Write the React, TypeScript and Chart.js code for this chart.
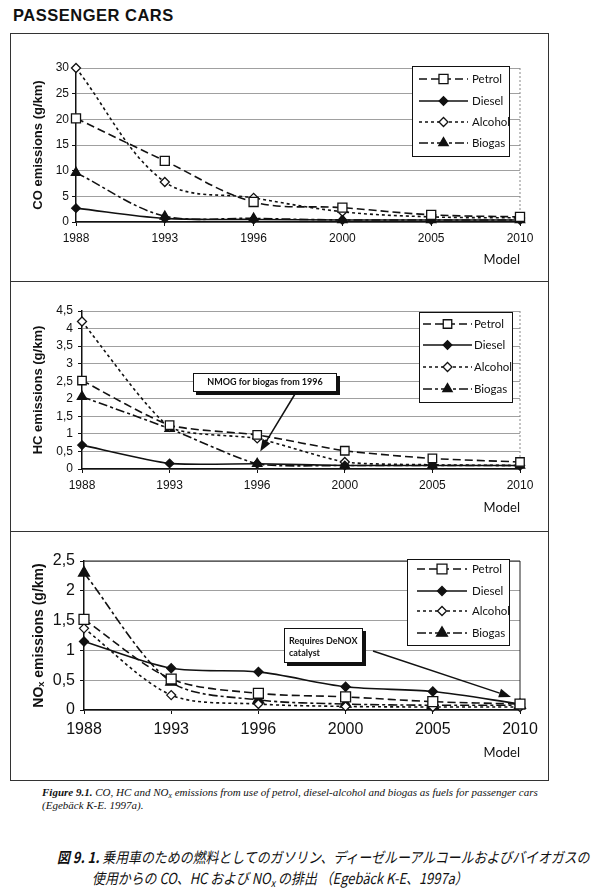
import React, { useEffect, useRef } from "react";
import { Chart, registerables } from "chart.js";
import { drawPoint } from "chart.js/helpers";
Chart.register(...registerables);

// ---------- data ----------
const years = ["1988", "1993", "1996", "2000", "2005", "2010"];
const fuels = ["Petrol", "Diesel", "Alcohol", "Biogas"];

const coPetrol = [20.2, 11.9, 3.9, 2.8, 1.4, 1.0];
const coDiesel = [2.7, 0.7, 0.5, 0.4, 0.4, 0.4];
const coAlcohol = [30, 7.8, 4.7, 2.0, 1.0, 0.8];
const coBiogas = [9.6, 1.1, 0.7, 0.4, 0.4, 0.4];

const hcPetrol = [2.52, 1.25, 0.97, 0.52, 0.3, 0.2];
const hcDiesel = [0.68, 0.16, 0.15, 0.1, 0.1, 0.1];
const hcAlcohol = [4.2, 1.2, 0.87, 0.2, 0.12, 0.1];
const hcBiogas = [2.06, 1.15, 0.15, 0.1, 0.1, 0.1];

const noxPetrol = [1.52, 0.52, 0.28, 0.22, 0.14, 0.1];
const noxDiesel = [1.15, 0.7, 0.64, 0.39, 0.31, 0.1];
const noxAlcohol = [1.37, 0.25, 0.1, 0.06, 0.05, 0.05];
const noxBiogas = [2.3, 0.47, 0.17, 0.1, 0.08, 0.08];

const coAxis = { max: 30, step: 5 };
const hcAxis = { max: 4.5, step: 0.5 };
const noxAxis = { max: 2.5, step: 0.5 };

const hcNote = ["NMOG for biogas from 1996"];
const noxNote = ["Requires DeNOX", "catalyst"];

// ---------- styles ----------
const INK = "#111";
const NARROW = "'Liberation Sans Narrow', 'Liberation Sans', Arial, sans-serif";
const HUMAN = "Lato, 'Open Sans', sans-serif";
const CANVAS_LEFT = 11;
const CANVAS_W = 536;

const seriesStyle = [
  { dash: [8, 4], point: "rect", fill: "#fff" },
  { dash: [], point: "rectRot", fill: INK },
  { dash: [3, 3], point: "rectRot", fill: "#fff" },
  { dash: [9, 3, 3, 3], point: "triangle", fill: INK },
];

type Panel = {
  top: number;
  height: number;
  area: { l: number; t: number; r: number; b: number };
  titleX: number;
  titleSize: number;
  yTitle: string;
  modelY: number;
  modelSize: number;
  axis: { max: number; step: number };
  tickSize: number;
  xTickPad: number;
  yTickPad: number;
  series: number[][];
  tension: number;
  radii: number[];
  frameColor: string;
  frameDash: number[];
  frameTop: boolean;
  legend: { x: number; y: number; w: number; h: number; rows: number[]; x1: number; x2: number; tx: number; size: number };
  note?: {
    lines: string[];
    box: { x: number; y: number; w: number; h: number };
    center: boolean;
    textX: number;
    lineYs: number[];
    size: number;
    from: [number, number];
    tipIndex: number;
    tipValue: number;
    tipDx: number;
  };
};

const panels: Panel[] = [
  {
    top: 34,
    height: 246,
    area: { l: 76, t: 68, r: 520, b: 222 },
    titleX: 38.5,
    titleSize: 13,
    yTitle: "CO emissions (g/km)",
    modelY: 260,
    modelSize: 13,
    axis: coAxis,
    tickSize: 12,
    xTickPad: 5,
    yTickPad: 3,
    series: [coPetrol, coDiesel, coAlcohol, coBiogas],
    tension: 0.35,
    radii: [6.4, 4.3, 4.5, 5.4],
    frameColor: "#888",
    frameDash: [2, 2],
    frameTop: false,
    legend: { x: 412, y: 66, w: 97, h: 90, rows: [79, 101, 122, 143], x1: 419, x2: 468, tx: 472, size: 11.5 },
  },
  {
    top: 283,
    height: 247,
    area: { l: 82, t: 311, r: 520, b: 469 },
    titleX: 38,
    titleSize: 13,
    yTitle: "HC emissions (g/km)",
    modelY: 508,
    modelSize: 13,
    axis: hcAxis,
    tickSize: 12,
    xTickPad: 5,
    yTickPad: 5,
    series: [hcPetrol, hcDiesel, hcAlcohol, hcBiogas],
    tension: 0.2,
    radii: [6, 4.3, 4.5, 5.4],
    frameColor: "#888",
    frameDash: [2, 2],
    frameTop: false,
    legend: { x: 419, y: 312, w: 93, h: 90, rows: [324, 345, 367, 389], x1: 423, x2: 472, tx: 474, size: 11.5 },
    note: {
      lines: hcNote,
      box: { x: 193, y: 373, w: 144, h: 19 },
      center: true,
      textX: 265,
      lineYs: [382.5],
      size: 9,
      from: [295, 394],
      tipIndex: 2,
      tipValue: 0.5,
      tipDx: 3,
    },
  },
  {
    top: 533,
    height: 246,
    area: { l: 84, t: 561, r: 520, b: 710 },
    titleX: 39,
    titleSize: 14,
    yTitle: "NOₓ emissions (g/km)",
    modelY: 753,
    modelSize: 13,
    axis: noxAxis,
    tickSize: 16,
    xTickPad: 6,
    yTickPad: 5,
    series: [noxPetrol, noxDiesel, noxAlcohol, noxBiogas],
    tension: 0.3,
    radii: [7, 4.5, 4.5, 6.3],
    frameColor: "#222",
    frameDash: [],
    frameTop: true,
    legend: { x: 407, y: 559, w: 102, h: 86, rows: [569, 591, 611, 633], x1: 417, x2: 467, tx: 472, size: 11.5 },
    note: {
      lines: noxNote,
      box: { x: 284, y: 628, w: 79, h: 35 },
      center: false,
      textX: 289,
      lineYs: [641, 653],
      size: 9,
      from: [373, 651],
      tipIndex: 5,
      tipValue: 0.22,
      tipDx: -9,
    },
  },
];

function EmissionChart({ p }: { p: Panel }) {
  const ref = useRef<HTMLCanvasElement>(null);
  useEffect(() => {
    if (!ref.current) return;
    const ox = CANVAS_LEFT;
    const oy = p.top;
    const titleLH = p.titleSize * 1.2;
    const padLeft = p.titleX - ox - (titleLH / 2 + 4);
    const yWidth = p.area.l - ox - padLeft;
    const padTop = p.area.t - oy;
    const padRight = ox + CANVAS_W - p.area.r;
    const modelLH = p.modelSize * 1.2;
    const xBottom = p.modelY + modelLH / 2 + 4;
    const padBottom = Math.max(0, oy + p.height - xBottom);
    const xHeight = xBottom - p.area.b;

    const decor = {
      id: "decor",
      beforeDatasetsDraw(chart: any) {
        const ctx = chart.ctx;
        const ca = chart.chartArea;
        ctx.save();
        ctx.strokeStyle = p.frameColor;
        ctx.lineWidth = 1;
        ctx.setLineDash(p.frameDash);
        ctx.beginPath();
        ctx.moveTo(ca.right, ca.bottom);
        ctx.lineTo(ca.right, ca.top);
        if (p.frameTop) ctx.lineTo(ca.left, ca.top);
        ctx.stroke();
        ctx.restore();
      },
      afterDraw(chart: any) {
        const ctx = chart.ctx;
        ctx.save();
        // legend
        const L = p.legend;
        ctx.setLineDash([]);
        ctx.fillStyle = "#fff";
        ctx.fillRect(L.x - ox, L.y - oy, L.w, L.h);
        ctx.strokeStyle = INK;
        ctx.lineWidth = 1;
        ctx.strokeRect(L.x - ox + 0.5, L.y - oy + 0.5, L.w, L.h);
        chart.data.datasets.forEach((ds: any, i: number) => {
          const y = L.rows[i] - oy;
          ctx.strokeStyle = INK;
          ctx.lineWidth = 1.5;
          ctx.setLineDash(ds.borderDash || []);
          ctx.beginPath();
          ctx.moveTo(L.x1 - ox, y);
          ctx.lineTo(L.x2 - ox, y);
          ctx.stroke();
          ctx.setLineDash([]);
          ctx.fillStyle = ds.pointBackgroundColor;
          ctx.strokeStyle = INK;
          ctx.lineWidth = 1.3;
          drawPoint(ctx, { pointStyle: ds.pointStyle, radius: ds.pointRadius, borderWidth: 1.3, rotation: 0 } as any, (L.x1 + L.x2) / 2 - ox, y);
          ctx.fillStyle = INK;
          ctx.font = `${L.size}px ${HUMAN}`;
          ctx.textBaseline = "middle";
          ctx.textAlign = "left";
          ctx.fillText(ds.label, L.tx - ox, y + 0.5);
        });
        // annotation
        const A = p.note;
        if (A) {
          const bx = A.box.x - ox;
          const by = A.box.y - oy;
          ctx.fillStyle = INK;
          ctx.fillRect(bx + 3, by + 3, A.box.w, A.box.h);
          ctx.fillStyle = "#fff";
          ctx.fillRect(bx, by, A.box.w, A.box.h);
          ctx.strokeStyle = INK;
          ctx.lineWidth = 1;
          ctx.strokeRect(bx + 0.5, by + 0.5, A.box.w - 1, A.box.h - 1);
          ctx.fillStyle = INK;
          ctx.font = `bold ${A.size}px ${HUMAN}`;
          ctx.textBaseline = "middle";
          ctx.textAlign = A.center ? "center" : "left";
          A.lines.forEach((t, k) => {
            ctx.fillText(t, (A.center ? A.box.x + A.box.w / 2 : A.textX) - ox, A.lineYs[k] - oy);
          });
          const tx = chart.scales.x.getPixelForValue(A.tipIndex) + A.tipDx;
          const ty = chart.scales.y.getPixelForValue(A.tipValue);
          const fx = A.from[0] - ox;
          const fy = A.from[1] - oy;
          const ang = Math.atan2(ty - fy, tx - fx);
          const head = 12;
          const hw = 4.5;
          const bxh = tx - head * Math.cos(ang);
          const byh = ty - head * Math.sin(ang);
          ctx.strokeStyle = INK;
          ctx.lineWidth = 1.5;
          ctx.beginPath();
          ctx.moveTo(fx, fy);
          ctx.lineTo(bxh, byh);
          ctx.stroke();
          ctx.beginPath();
          ctx.moveTo(tx, ty);
          ctx.lineTo(bxh + hw * Math.sin(ang), byh - hw * Math.cos(ang));
          ctx.lineTo(bxh - hw * Math.sin(ang), byh + hw * Math.cos(ang));
          ctx.closePath();
          ctx.fill();
        }
        ctx.restore();
      },
    };

    const chart = new Chart(ref.current, {
      type: "line",
      data: {
        labels: years,
        datasets: p.series.map((values, i) => ({
          label: fuels[i],
          data: values,
          borderColor: INK,
          borderWidth: 1.6,
          borderDash: seriesStyle[i].dash,
          pointStyle: seriesStyle[i].point as any,
          pointRadius: p.radii[i],
          pointBorderWidth: 1.3,
          pointBorderColor: INK,
          pointBackgroundColor: seriesStyle[i].fill,
          fill: false,
          clip: false,
        })) as any,
      },
      options: {
        animation: false,
        responsive: false,
        maintainAspectRatio: false,
        layout: { padding: { left: padLeft, top: padTop, right: padRight, bottom: padBottom } },
        plugins: { legend: { display: false }, tooltip: { enabled: false } },
        elements: { line: { tension: p.tension } },
        scales: {
          x: {
            type: "category",
            offset: false,
            grid: { drawOnChartArea: false, drawTicks: true, tickLength: 4, tickColor: INK },
            border: { color: INK, width: 1.5 },
            ticks: {
              color: INK,
              font: { family: NARROW, size: p.tickSize },
              padding: p.xTickPad,
              maxRotation: 0,
              autoSkip: false,
            },
            title: {
              display: true,
              text: "Model",
              align: "end",
              color: INK,
              font: { family: HUMAN, size: p.modelSize },
              padding: { top: 4, bottom: 4 },
            },
            afterFit: (s: any) => {
              s.height = xHeight;
            },
          } as any,
          y: {
            min: 0,
            max: p.axis.max,
            ticks: {
              stepSize: p.axis.step,
              color: INK,
              font: { family: NARROW, size: p.tickSize },
              padding: p.yTickPad,
              callback: (v: any) => String(v).replace(".", ","),
            },
            grid: { color: "#a0a0a0", lineWidth: 1, tickLength: 4, tickColor: INK },
            border: { color: INK, width: 1.5 },
            title: {
              display: true,
              text: p.yTitle,
              color: INK,
              font: { family: "'Liberation Sans', Arial, sans-serif", weight: "bold", size: p.titleSize },
              padding: { top: 4, bottom: 4 },
            },
            afterFit: (s: any) => {
              s.width = yWidth;
            },
          } as any,
        },
      },
      plugins: [decor],
    });
    return () => chart.destroy();
  }, [p]);
  return (
    <canvas
      ref={ref}
      width={CANVAS_W}
      height={p.height}
      style={{ position: "absolute", left: CANVAS_LEFT, top: p.top, width: CANVAS_W, height: p.height, display: "block" }}
    />
  );
}

export default function App() {
  const hline = (top: number) => (
    <div style={{ position: "absolute", left: 10, top, width: 538, height: 1, background: "#333" }} />
  );
  const subX = { fontSize: "0.7em", verticalAlign: "-0.25em", lineHeight: 0 } as React.CSSProperties;
  const jp = (left: number, top: number): React.CSSProperties => ({
    position: "absolute",
    left,
    top,
    fontFamily: "'Noto Sans CJK JP', sans-serif",
    fontStyle: "italic",
    fontSize: 15,
    lineHeight: "20px",
    color: INK,
    whiteSpace: "nowrap",
    transform: "scaleX(0.86)",
    transformOrigin: "left top",
  });
  return (
    <div style={{ position: "absolute", left: 0, top: 0, width: 600, height: 892, background: "#fff", overflow: "hidden" }}>
      <div
        style={{
          position: "absolute",
          left: 13,
          top: 5,
          fontFamily: "'Liberation Sans', Arial, sans-serif",
          fontWeight: "bold",
          fontSize: 16.5,
          letterSpacing: 0.5,
          color: INK,
          lineHeight: "20px",
        }}
      >
        PASSENGER CARS
      </div>
      <div
        style={{
          position: "absolute",
          left: 10,
          top: 33,
          width: 539,
          height: 748,
          border: "1px solid #333",
          boxSizing: "border-box",
        }}
      />
      {hline(281)}
      {hline(531)}
      {panels.map((p, i) => (
        <EmissionChart key={i} p={p} />
      ))}
      <div
        style={{
          position: "absolute",
          left: 42,
          top: 786,
          width: 556,
          fontFamily: "'Liberation Serif', 'Times New Roman', serif",
          fontStyle: "italic",
          fontSize: 11,
          lineHeight: "12.5px",
          color: INK,
          whiteSpace: "nowrap",
        }}
      >
        <div>
          <b>Figure 9.1.</b> CO, HC and NO<span style={subX}>x</span> emissions from use of petrol, diesel-alcohol and
          biogas as fuels for passenger cars
        </div>
        <div>(Egebäck K-E. 1997a).</div>
      </div>
      <div style={jp(57, 847)}>
        <b>図 9. 1.</b> 乗用車のための燃料としてのガソリン、ディーゼルーアルコールおよびバイオガスの
      </div>
      <div style={jp(92, 868)}>
        使用からの CO、HC および NO<span style={subX}>x</span> の排出 （Egebäck K-E、1997a）
      </div>
    </div>
  );
}
